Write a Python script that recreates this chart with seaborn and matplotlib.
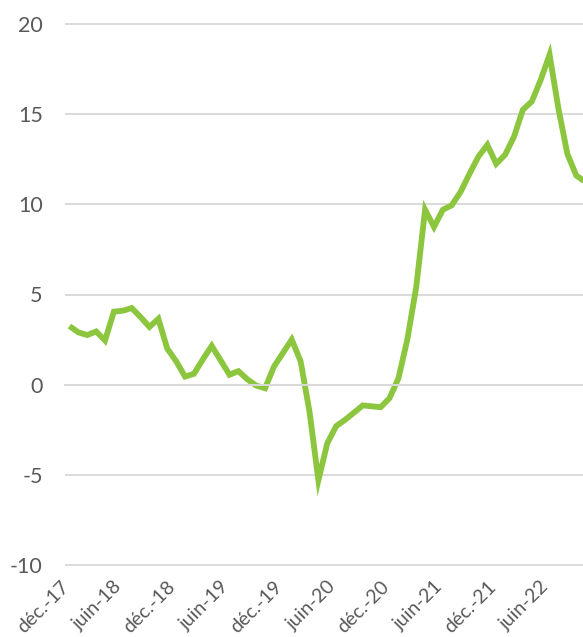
import matplotlib
matplotlib.use("Agg")
import matplotlib.pyplot as plt
import seaborn as sns
import numpy as np
import pandas as pd

# Monthly values starting déc. 2017
values = [3.25, 2.9, 2.75, 2.95, 2.45, 4.05, 4.1, 4.25, 3.75, 3.2,
          3.65, 2.0, 1.3, 0.45, 0.6, 1.4, 2.15, 1.35, 0.55, 0.75,
          0.3, -0.05, -0.2, 1.0, 1.75, 2.5, 1.3, -1.5, -5.3, -3.25,
          -2.3, -1.95, -1.55, -1.15, -1.2, -1.25, -0.75, 0.35, 2.5, 5.4,
          9.7, 8.75, 9.7, 9.95, 10.7, 11.7, 12.65, 13.3, 12.25, 12.75,
          13.75, 15.25, 15.7, 16.9, 18.3, 15.3, 12.8, 11.6, 11.25]
tick_labels = ["déc.-17", "juin-18", "déc.-18", "juin-19", "déc.-19",
               "juin-20", "déc.-20", "juin-21", "déc.-21", "juin-22"]
y_ticks = [-10, -5, 0, 5, 10, 15, 20]

sns.set_style("white")
plt.rcParams["font.family"] = ["Lato", "DejaVu Sans"]

df = pd.DataFrame({"idx": np.arange(len(values)), "val": values})

GRAY = "#d9d9d9"
TXT = "#595959"
GREEN = "#8cc63f"

fig = plt.figure(figsize=(5.83, 6.37), dpi=100)
ax = fig.add_axes([65 / 583, 1 - 574 / 637, 518 / 583, 559 / 637])

sns.lineplot(data=df, x="idx", y="val", ax=ax, color=GREEN, linewidth=4.2,
             solid_joinstyle="miter", solid_capstyle="butt")

ax.set_xlim(-0.5, 57.76)
ax.set_ylim(-10.5, 20.5)
ax.set_xlabel("")
ax.set_ylabel("")

ax.set_yticks(y_ticks)
ax.set_yticklabels([str(v) for v in y_ticks])
ax.yaxis.grid(True, color=GRAY, linewidth=1.4)
ax.set_axisbelow(True)
ax.tick_params(axis="y", length=0, pad=16, labelsize=15.5, labelcolor=TXT)

for s in ["top", "right", "left"]:
    ax.spines[s].set_visible(False)
ax.spines["bottom"].set_position(("data", 0))
ax.spines["bottom"].set_color(GRAY)
ax.spines["bottom"].set_linewidth(1.4)

n = len(values)
boundaries = np.arange(-0.5, n, 6)
ax.set_xticks(boundaries)
ax.tick_params(axis="x", length=5, width=1.4, color=GRAY, labelbottom=False,
               direction="out")

sec = ax.secondary_xaxis("bottom")
label_pos = np.arange(0, 6 * len(tick_labels), 6) + 0.3
sec.set_xticks(label_pos)
sec.set_xticklabels(tick_labels, rotation=45, ha="right", va="top",
                    rotation_mode="default")
sec.spines["bottom"].set_visible(False)
sec.tick_params(length=0, pad=3, labelsize=14, labelcolor=TXT)

fig.savefig("out.png", dpi=100)
